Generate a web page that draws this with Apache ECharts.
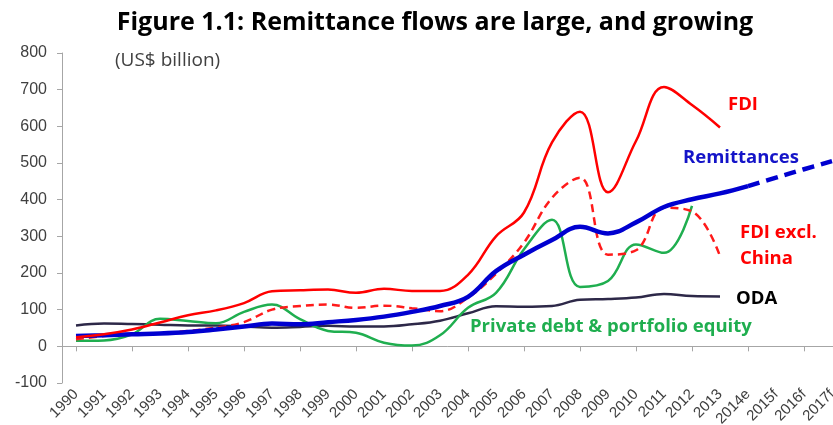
<!DOCTYPE html>
<html>
<head>
<meta charset="utf-8">
<script src="https://cdn.jsdelivr.net/npm/echarts@6/dist/echarts.min.js"></script>
<style>
html,body{margin:0;padding:0;background:#fff;}
#chart{width:833px;height:425px;}
</style>
</head>
<body>
<div id="chart"></div>
<script>
var years = ['1990','1991','1992','1993','1994','1995','1996','1997','1998','1999','2000','2001','2002','2003','2004','2005','2006','2007','2008','2009','2010','2011','2012','2013','2014e','2015f','2016f','2017f'];
var fdi = [25,33,46,65,85,98,118,150,153,155,146,157,151,151,195,300,365,556,640,420,560,707,658,597];
var fdiExclChina = [19,28,33,35,42,51,66,100,110,114,105,111,104,96,133,198,283,405,460,250,262,378,368,246];
var remittances = [28,30,33,35,39,46,54,62,60,66,72,81,94,110,135,205,250,290,326,308,338,380,401,417,437];
var remittancesForecast = [null,null,null,null,null,null,null,null,null,null,null,null,null,null,null,null,null,null,null,null,null,null,null,null,437,460,483,505];
var privateDebt = [15,16,33,75,69,63,94,114,74,42,37,10,2,30,105,146,265,345,162,178,278,255,383];
var oda = [57,62,61,59,57,57,54,51,53,56,54,54,60,70,90,109,108,110,127,129,133,143,137,136];
var yTicks = {min:-100, max:800, interval:100};

var chart = echarts.init(document.getElementById('chart'));
var axisGray = '#a6a6a6';
var txtGray = '#404040';
var lab = function(text, x, y, color, size, weight, align){
  return {type:'text', x:x, y:y, style:{text:text, fill:color, font:(weight||'bold')+' '+size+'px "Open Sans"', textAlign:align||'left', textVerticalAlign:'middle'}};
};
chart.setOption({
  animation:false,
  backgroundColor:'#fff',
  grid:{left:62, top:53, width:784, height:330, containLabel:false, outerBoundsMode:'none'},
  xAxis:[{
    type:'category', data:years, boundaryGap:true,
    axisLine:{onZero:true, lineStyle:{color:axisGray, width:1}},
    axisTick:{show:true, alignWithLabel:true, length:5, lineStyle:{color:axisGray}},
    axisLabel:{show:false}, splitLine:{show:false}
  },{
    type:'category', data:years, boundaryGap:true, position:'bottom',
    axisLine:{show:false, onZero:false}, axisTick:{show:false},
    axisLabel:{rotate:45, margin:9, fontSize:15, color:txtGray, fontFamily:'Liberation Sans', interval:0},
    splitLine:{show:false}
  }],
  yAxis:{
    type:'value', min:yTicks.min, max:yTicks.max, interval:yTicks.interval,
    axisLine:{show:true, lineStyle:{color:axisGray}},
    axisTick:{show:true, length:5, lineStyle:{color:axisGray}},
    axisLabel:{fontSize:16, color:txtGray, fontFamily:'Liberation Sans', margin:15},
    splitLine:{show:false}
  },
  series:[
    {name:'ODA', type:'line', data:oda, smooth:0.4, symbol:'none', lineStyle:{color:'#2d2848', width:2.5}},
    {name:'Private debt & portfolio equity', type:'line', data:privateDebt, smooth:0.4, symbol:'none', lineStyle:{color:'#1fae4f', width:2.5}},
    {name:'FDI excl. China', type:'line', data:fdiExclChina, smooth:0.4, symbol:'none', lineStyle:{color:'#ff1a1a', width:2.5, type:[8,5]}},
    {name:'Remittances', type:'line', data:remittances, smooth:0.4, symbol:'none', lineStyle:{color:'#0000d0', width:4.5}},
    {name:'Remittances forecast', type:'line', data:remittancesForecast, smooth:0.4, symbol:'none', lineStyle:{color:'#0000d0', width:4.5, type:[12,7]}},
    {name:'FDI', type:'line', data:fdi, smooth:0.4, symbol:'none', lineStyle:{color:'#ff0000', width:2.5}}
  ],
  graphic:[
    lab('Figure 1.1: Remittance flows are large, and growing', 435, 23, '#000', 25, 'bold', 'center'),
    lab('(US$ billion)', 115, 61, txtGray, 19, 'normal'),
    lab('FDI', 728, 105, '#ff0000', 18.5),
    lab('Remittances', 683, 158, '#1414c8', 18.5),
    lab('FDI excl.', 740, 233, '#ff0000', 18.5),
    lab('China', 740, 259, '#ff0000', 18.5),
    lab('ODA', 736, 299, '#000000', 18.5),
    lab('Private debt & portfolio equity', 470, 327, '#1fae4f', 18.5)
  ]
});
</script>
</body>
</html>
